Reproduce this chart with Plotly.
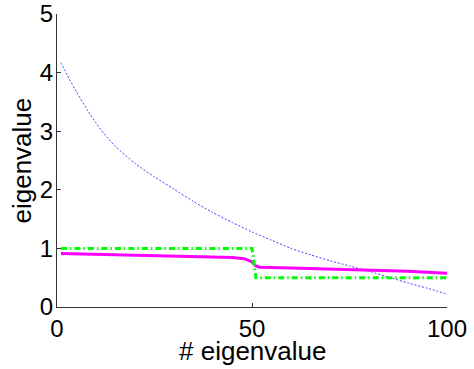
import plotly.graph_objects as go

# blue dotted curve (sampled indices and values)
blue_x = [1, 3, 5, 8, 10, 12, 15, 20, 25, 30, 35, 40, 45, 50, 55, 60, 65, 70, 75, 80, 85, 90, 95, 100]
blue_y = [4.17, 3.91, 3.67, 3.34, 3.14, 2.96, 2.74, 2.45, 2.22, 2.01, 1.80, 1.61, 1.44, 1.28,
          1.14, 1.00, 0.89, 0.79, 0.70, 0.61, 0.51, 0.41, 0.32, 0.22]

# magenta solid curve
mag_x = [1, 10, 20, 30, 40, 45, 48, 49, 50, 51, 52, 60, 70, 80, 90, 100]
mag_y = [0.915, 0.90, 0.885, 0.87, 0.86, 0.845, 0.825, 0.80, 0.77, 0.70, 0.68, 0.665, 0.65, 0.63, 0.61, 0.575]

# green dash-dot step
green_x = [1, 50, 51, 100]
green_y = [1.0, 1.0, 0.5, 0.5]

x_ticks = [0, 50, 100]
y_ticks = [0, 1, 2, 3, 4, 5]
x_title = "# eigenvalue"
y_title = "eigenvalue"

fig = go.Figure()
fig.add_trace(go.Scatter(x=blue_x, y=blue_y, mode="lines",
                         line=dict(color="rgb(70,70,255)", width=1, dash="2px,1.8px",
                                   shape="spline", smoothing=0.6)))
fig.add_trace(go.Scatter(x=mag_x, y=mag_y, mode="lines",
                         line=dict(color="#ff00ff", width=3)))
fig.add_trace(go.Scatter(x=green_x, y=green_y, mode="lines",
                         line=dict(color="#00ff00", width=3, dash="6px,3px,1.5px,3px")))

tfont = dict(family="Liberation Sans, Arial, sans-serif", size=24, color="black")
lfont = dict(family="Liberation Sans, Arial, sans-serif", size=26, color="black")
fig.update_layout(
    width=474, height=369,
    margin=dict(l=57, r=27, t=14, b=62, autoexpand=False),
    paper_bgcolor="white", plot_bgcolor="white",
    showlegend=False,
    font=tfont,
    xaxis=dict(range=[0, 100], tickvals=x_ticks, ticks="inside", ticklen=4,
               tickcolor="#333", showline=True, linecolor="#333", linewidth=1,
               showgrid=False, zeroline=False, tickfont=tfont, automargin=False,
               ticklabelstandoff=0, ticklabeloverflow="allow"),
    yaxis=dict(range=[0, 5], tickvals=y_ticks, ticks="inside", ticklen=4,
               tickcolor="#333", showline=True, linecolor="#333", linewidth=1,
               showgrid=False, zeroline=False, tickfont=tfont, automargin=False,
               ticklabelstandoff=-2, ticklabeloverflow="allow"),
    annotations=[
        dict(text=x_title, xref="paper", yref="paper", x=0.5, y=0,
             xanchor="center", yanchor="middle", yshift=-44, showarrow=False, font=lfont),
        dict(text=y_title, xref="paper", yref="paper", x=0, y=0.5, textangle=-90,
             xanchor="center", yanchor="middle", xshift=-36, showarrow=False, font=lfont),
    ],
)
fig.write_html("out.html", config={"displayModeBar": False},
               post_script="document.body.style.margin='0';document.body.style.overflow='hidden';")
